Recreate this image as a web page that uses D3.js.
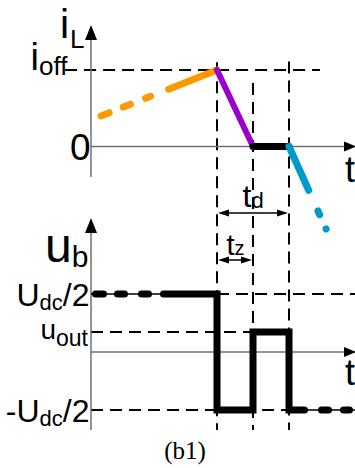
<!DOCTYPE html>
<html><head><meta charset="utf-8">
<script src="https://cdn.jsdelivr.net/npm/d3@7"></script>
<style>html,body{margin:0;padding:0;background:#fff;}svg{display:block;}</style>
</head><body>
<div id="chart"></div>
<script>
// ---- data (time in units, currents in i_off units, voltages in U_dc units)
const tSwitch = 3.5, tZero = 4.5, tDead = 5.5, tMax = 7.333;
const orangeT = [0.28, 3.5],  orangeI = [0.40, 1];
const purpleT = [3.5, 4.5],   purpleI = [1, 0];
const blackT  = [4.5, 5.5],   blackI  = [0, 0];
const blueT   = [5.5, 6.53],  blueI   = [0, -1.078];
const waveT = [0.125, 3.5, 3.5, 4.5, 4.5, 5.5, 5.5, 7.18];
const waveU = [0.5, 0.5, -0.5, -0.5, 0.172, 0.172, -0.5, -0.5];
const iOff = 1, uOut = 0.172, uHalf = 0.5;
const vLines = [tSwitch, tZero, tDead];
const vLineTop = [1.10, 0.83, 1.11];

const W = 355, H = 468;
const svg = d3.select("#chart").append("svg").attr("width", W).attr("height", H);
const x = d3.scaleLinear().domain([0, tMax]).range([91, 355]);
const yT = d3.scaleLinear().domain([0, 1]).range([146.5, 70]);
const yB = d3.scaleLinear().domain([0, 0.5]).range([352, 294]);
const font = "'Liberation Sans', Arial, sans-serif";
const axisCol = "#707070";

function zip(a, b) { return a.map((v, i) => [v, b[i]]); }
const lineT = d3.line().x(d => x(d[0])).y(d => yT(d[1]));
const lineB = d3.line().x(d => x(d[0])).y(d => yB(d[1]));

function arrowHead(tipX, tipY, dir, len, half) {
  let pts;
  if (dir === "up") pts = [[tipX, tipY], [tipX - half, tipY + len], [tipX + half, tipY + len]];
  else if (dir === "right") pts = [[tipX, tipY], [tipX - len, tipY - half], [tipX - len, tipY + half]];
  else pts = [[tipX, tipY], [tipX + len, tipY - half], [tipX + len, tipY + half]];
  svg.append("path").attr("d", "M" + pts.join("L") + "Z").attr("fill", "#000");
}

// ---- dashed reference lines
const dash = "12,7";
svg.append("line").attr("x1", x(-0.72)).attr("x2", x(6.36)).attr("y1", yT(iOff)).attr("y2", yT(iOff))
  .attr("stroke", "#000").attr("stroke-width", 2).attr("stroke-dasharray", dash);
vLines.forEach((t, i) => {
  svg.append("line").attr("x1", x(t)).attr("x2", x(t)).attr("y1", yT(vLineTop[i])).attr("y2", yB(-0.672))
    .attr("stroke", "#000").attr("stroke-width", 2).attr("stroke-dasharray", dash);
});
[[uHalf, tSwitch, tMax], [uOut, 0, tZero], [-uHalf, 0, tDead]].forEach(([u, a, b]) => {
  svg.append("line").attr("x1", x(a)).attr("x2", x(b)).attr("y1", yB(u)).attr("y2", yB(u))
    .attr("stroke", "#000").attr("stroke-width", 2).attr("stroke-dasharray", dash);
});

// ---- axes
svg.append("line").attr("x1", x(0)).attr("x2", x(0)).attr("y1", 38).attr("y2", 177).attr("stroke", axisCol).attr("stroke-width", 1.5);
svg.append("line").attr("x1", x(0)).attr("x2", 346).attr("y1", yT(0)).attr("y2", yT(0)).attr("stroke", axisCol).attr("stroke-width", 1.5);
arrowHead(x(0), 25, "up", 15, 6);
arrowHead(356, yT(0), "right", 12, 5);
svg.append("line").attr("x1", x(0)).attr("x2", x(0)).attr("y1", 230).attr("y2", 430).attr("stroke", axisCol).attr("stroke-width", 1.5);
svg.append("line").attr("x1", x(0)).attr("x2", 346).attr("y1", yB(0)).attr("y2", yB(0)).attr("stroke", axisCol).attr("stroke-width", 1.5);
arrowHead(x(0), 218, "up", 15, 6);
arrowHead(356, yB(0), "right", 12, 5);

// ---- current waveform
svg.append("path").attr("d", lineT(zip(orangeT, orangeI))).attr("fill", "none")
  .attr("stroke", "#FF9900").attr("stroke-width", 7).attr("stroke-linecap", "round")
  .attr("stroke-dasharray", "8.7,15.2,7.6,16.3,5.4,19.5,1000");
svg.append("path").attr("d", lineT(zip(purpleT, purpleI))).attr("fill", "none")
  .attr("stroke", "#9900CC").attr("stroke-width", 6).attr("stroke-linecap", "round");
svg.append("path").attr("d", lineT(zip(blackT, blackI))).attr("fill", "none")
  .attr("stroke", "#000").attr("stroke-width", 7).attr("stroke-linecap", "round");
svg.append("path").attr("d", lineT(zip(blueT, blueI))).attr("fill", "none")
  .attr("stroke", "#0099CC").attr("stroke-width", 7).attr("stroke-linecap", "round")
  .attr("stroke-dasharray", "48,22.7,4.1,15.6,0.01,100");

// ---- voltage waveform
const wave = zip(waveT, waveU);
const waveThin = [[0, waveU[0]]].concat(wave, [[tMax, waveU[waveU.length - 1]]]);
svg.append("path").attr("d", lineB(waveThin)).attr("fill", "none").attr("stroke", "#000").attr("stroke-width", 1.5);
const wp = svg.append("path").attr("d", lineB(wave)).attr("fill", "none")
  .attr("stroke", "#000").attr("stroke-width", 7).attr("stroke-linecap", "round").attr("stroke-linejoin", "miter");
const leftTail = [8, 14, 7, 17, 7, 15], rightTail = [17, 7, 15, 6];
const total = wp.node().getTotalLength();
const solid = total - d3.sum(leftTail) - d3.sum(rightTail);
wp.attr("stroke-dasharray", leftTail.concat([solid], rightTail, [0, 1000]).join(","));

// ---- interval arrows
function hArrow(t1, t2, yy) {
  svg.append("line").attr("x1", x(t1) + 8).attr("x2", x(t2) - 8).attr("y1", yy).attr("y2", yy).attr("stroke", "#000").attr("stroke-width", 1.5);
  arrowHead(x(t1) + 1, yy, "left", 11, 3.5);
  arrowHead(x(t2) - 1, yy, "right", 11, 3.5);
}
hArrow(tSwitch, tDead, yT(-0.87));
hArrow(tSwitch, tZero, yB(0.793));

// ---- labels
function label(parts, lx, ly, anchor, family) {
  const t = svg.append("text").attr("x", lx).attr("y", ly).attr("text-anchor", anchor)
    .attr("font-family", family || font).attr("fill", "#000");
  let cur = 0;
  parts.forEach(p => {
    const dy = p.dy || 0;
    t.append("tspan").attr("font-size", p.size).attr("dy", dy - cur).attr("dx", p.dx || 0).text(p.text);
    cur = dy;
  });
}
label([{text: "i", size: 41}, {text: "L", size: 26, dy: 10, dx: 1}], 60, 38, "start");
label([{text: "i", size: 38}, {text: "off", size: 26, dy: 5}], 30.5, 70, "start");
label([{text: "0", size: 37}], 90.5, 160, "end");
label([{text: "t", size: 36}], 345, 182, "start");
label([{text: "t", size: 36}], 345, 385, "start");
label([{text: "t", size: 32}, {text: "d", size: 22, dy: 1}], 242.5, 207, "start");
label([{text: "t", size: 29}, {text: "z", size: 20, dy: 0}], 226.5, 255, "start");
label([{text: "u", size: 48}, {text: "b", size: 30, dy: 5}], 45, 262, "start");
label([{text: "U", size: 32}, {text: "dc", size: 22, dy: 4}, {text: "/2", size: 32, dy: 0}], 89.5, 306, "end");
label([{text: "u", size: 28}, {text: "out", size: 23, dy: 7}], 88, 339, "end");
label([{text: "-U", size: 32}, {text: "dc", size: 22, dy: 4}, {text: "/2", size: 32, dy: 0}], 89.5, 422, "end");
label([{text: "(b1)", size: 25}], 185, 459, "middle", "'Liberation Serif', 'Times New Roman', serif");
</script>
</body></html>
